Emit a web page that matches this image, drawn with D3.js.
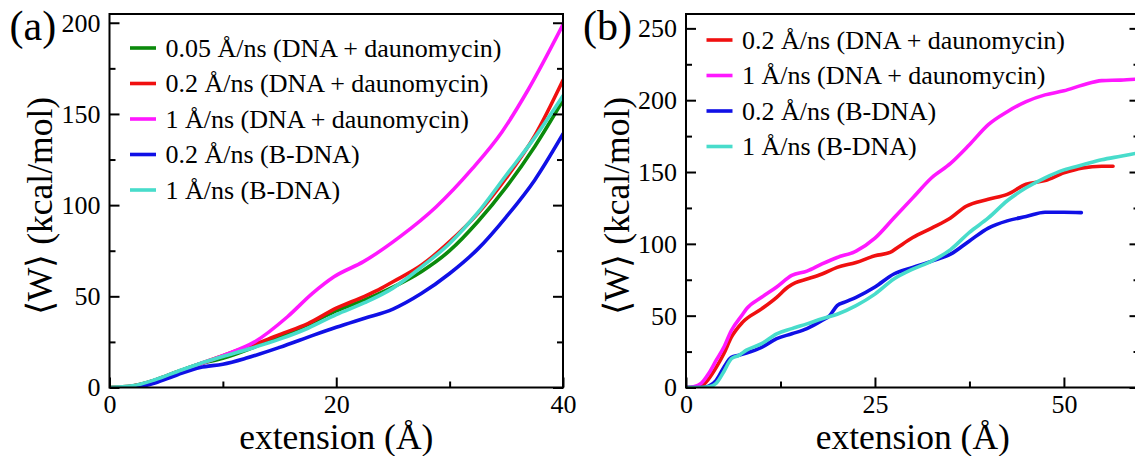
<!DOCTYPE html>
<html><head><meta charset="utf-8">
<script src="https://cdn.jsdelivr.net/npm/d3@7"></script>
<style>
html,body{margin:0;padding:0;background:#fff;}
svg{display:block;}
</style></head>
<body>
<svg id="chart" width="1135" height="456" font-family="Liberation Serif"></svg>
<script>
// ---------- Panel (a) data ----------
const aGreenX   = [0,2,4,6,8,10,12.5,15,17.5,20,22.5,25,27.5,30,32.5,35,37.5,40];
const aGreenY   = [0,0.8,4,8.6,13,16,21.5,28,34.5,42,48,55,63.5,75,91,110,132,157.5];
const aRedX     = [0,2,4,6,8,10,12,14,15,17.5,20,22.5,24,25,27.5,30,32.5,35,37.5,40];
const aRedY     = [0,0.8,4,8.6,13,17.5,22,26.5,29,35,43.5,50,54.5,58,67,80,95.5,115,138,168.5];
const aMagentaX = [1.5,2,4,6,8,10,12.8,15.7,17.9,19.8,22.4,25.6,28.8,32,34.6,36.9,40];
const aMagentaY = [0,0.3,3.5,8.3,13,17.5,25,38.8,51.6,60.7,69,82.6,99,120,140,163,199];
const aBlueX    = [2.5,4,6,8,10,12,15,18,20,22.5,25,27.5,30,32.5,35,37.5,40];
const aBlueY    = [0,2.5,7,11,12.8,16,22,28.7,33,38,43,51.5,62.5,76,93.6,113.7,139];
const aCyanX    = [0,2,4,6,8,10,12.5,15,17.5,20,22.5,25,27.5,30,32.5,35,37.5,40];
const aCyanY    = [0,0.9,4.2,8.8,13.2,17,21.5,26.5,32.5,40,46.5,54.5,66,79,96,116.5,137,160];

// ---------- Panel (b) data ----------
const bRedX     = [0,1,2,3,4,5,6,7.5,10,12,13.5,14.5,16,18,20,22.5,25,27,28,30,32.5,35,37,40,42.5,45,47.5,50,52.5,55,56.5];
const bRedY     = [0,0.2,1,6,14,23.5,35,45.5,54.7,62.8,70,73,75.5,79,83.6,87,91.7,94,97.5,104.4,111,118,126,131,134.4,141.5,144,149.4,152.9,154,154];
const bMagentaX = [0,1,2,3,4,5,6,7.5,8,10,12,14,16,18,20,22.5,25,27.5,30,32.5,35,37.5,40,42.5,45,47.5,50,52.5,55,57.5,60];
const bMagentaY = [0,0.5,2.8,9.7,19,28,39.7,51,54.7,62.8,70,78,81,86,90.5,95,104,118,132,146,156,169,183,192,199,203.7,206.5,210.6,213.6,214,214.8];
const bBlueX    = [0,2,3,4,5,6,7,8,10,12,14,16,18,19,20,21,22.5,25,27.5,30,32.5,35,37.5,40,42.5,45,47.5,50,52.3];
const bBlueY    = [0,0,1,5,14,21,22.4,24,28,34,37.4,41,46.7,50,57,59.4,62.8,70,79,83.6,88,92.8,102,111,116,119,122,122,121.7];
const bCyanX    = [0,2,3,4,5,6,7,8,10,12,14,16,18,20,22.5,25,27.5,30,32.5,35,37.5,40,42.5,45,47.5,50,52.5,55,57.5,60];
const bCyanY    = [0,0,0.5,3,11,20,22.4,26,30.5,37.4,41,44.3,47.8,51,57,65,75.5,82.4,88,96,108,118,130,139,146,151.5,155,158.5,161,163.5];

// ---------- labels / ticks ----------
const aLegendLabels = ["0.05 Å/ns (DNA + daunomycin)","0.2 Å/ns (DNA + daunomycin)","1 Å/ns (DNA + daunomycin)","0.2 Å/ns (B-DNA)","1 Å/ns (B-DNA)"];
const bLegendLabels = ["0.2 Å/ns (DNA + daunomycin)","1 Å/ns (DNA + daunomycin)","0.2 Å/ns (B-DNA)","1 Å/ns (B-DNA)"];
const aXTicks = [0,20,40], aXMinor = [10,30];
const aYTicks = [0,50,100,150,200], aYMinor = [25,75,125,175];
const bXTicks = [0,25,50], bXMinor = [12.5,37.5];
const bYTicks = [0,50,100,150,200,250], bYMinor = [25,75,125,175,225];
const xTitle = "extension (Å)", yTitle = "⟨W⟩ (kcal/mol)";

const C = {green:"#0b8a0b", red:"#f01010", magenta:"#ff18ff", blue:"#1010e6", cyan:"#48dccb"};
const FONT = "Liberation Serif";

const svg = d3.select("#chart");

function zip(xs, ys){ return xs.map((x,i)=>[x, ys[i]]); }

function panel(opt){
  const g = svg.append("g").attr("transform",`translate(${opt.left},${opt.top})`);
  const w = opt.width, h = opt.height;
  const x = d3.scaleLinear().domain(opt.xDomain).range([0,w]);
  const y = d3.scaleLinear().domain(opt.yDomain).range([h,0]);

  const clipId = "clip"+opt.name.replace(/\W/g,"");
  g.append("clipPath").attr("id",clipId).append("rect").attr("width",w).attr("height",h);

  const line = d3.line().x(d=>x(d[0])).y(d=>y(d[1])).curve(d3.curveMonotoneX);
  const lines = g.append("g").attr("clip-path",`url(#${clipId})`);
  opt.series.forEach(s=>{
    lines.append("path").datum(zip(s.x,s.y))
      .attr("fill","none").attr("stroke",s.color).attr("stroke-width",3.6)
      .attr("stroke-linejoin","round").attr("stroke-linecap","round")
      .attr("d",line);
  });

  function styleAxis(sel){
    sel.attr("font-family",FONT).attr("font-size",26);
    sel.select(".domain").remove();
    sel.selectAll("line").attr("stroke","#000").attr("stroke-width",2);
    sel.selectAll("text").attr("font-family",FONT).attr("font-size",26).attr("fill","#000");
  }
  // left
  g.append("g").call(d3.axisLeft(y).tickValues(opt.yTicks).tickSize(-10).tickPadding(9).tickFormat(d3.format("d"))).call(styleAxis);
  g.append("g").call(d3.axisLeft(y).tickValues(opt.yMinor).tickSize(-6).tickFormat("")).call(styleAxis);
  // right
  g.append("g").attr("transform",`translate(${w},0)`).call(d3.axisRight(y).tickValues(opt.yTicks).tickSize(-10).tickFormat("")).call(styleAxis);
  g.append("g").attr("transform",`translate(${w},0)`).call(d3.axisRight(y).tickValues(opt.yMinor).tickSize(-6).tickFormat("")).call(styleAxis);
  // bottom
  g.append("g").attr("transform",`translate(0,${h})`).call(d3.axisBottom(x).tickValues(opt.xTicks).tickSize(-10).tickPadding(7).tickFormat(d3.format("d"))).call(styleAxis);
  g.append("g").attr("transform",`translate(0,${h})`).call(d3.axisBottom(x).tickValues(opt.xMinor).tickSize(-6).tickFormat("")).call(styleAxis);

  // frame
  g.append("rect").attr("width",w).attr("height",h).attr("fill","none").attr("stroke","#000").attr("stroke-width",2);

  // legend
  const lg = g.append("g").attr("transform",`translate(20.5,${opt.legendTop})`);
  opt.series.forEach((s,i)=>{
    const yy = i*35.5;
    lg.append("line").attr("x1",0).attr("x2",26).attr("y1",yy).attr("y2",yy)
      .attr("stroke",s.color).attr("stroke-width",3.6);
    lg.append("text").attr("x",35.5).attr("y",yy+8.8)
      .attr("font-family",FONT).attr("font-size",26).text(s.label);
  });

  // titles
  g.append("text").attr("x",w/2).attr("y",h+61.5).attr("text-anchor","middle")
    .attr("font-family",FONT).attr("font-size",35.5).text(xTitle);
  g.append("text").attr("transform",`translate(-57.5,${192})rotate(-90)`).attr("text-anchor","middle")
    .attr("font-family",FONT).attr("font-size",35.5).text(yTitle);
  // panel label
  g.append("text").attr("x",-opt.labelOffset).attr("y",26)
    .attr("font-family",FONT).attr("font-size",42).text(opt.name);
}

const aColors = [C.green,C.red,C.magenta,C.blue,C.cyan];
const aXs = [aGreenX,aRedX,aMagentaX,aBlueX,aCyanX];
const aYs = [aGreenY,aRedY,aMagentaY,aBlueY,aCyanY];
panel({
  name:"(a)", left:109.5, top:14, width:453.5, height:373.5,
  xDomain:[0,40], yDomain:[0,204.8],
  xTicks:aXTicks, xMinor:aXMinor, yTicks:aYTicks, yMinor:aYMinor,
  legendTop:34, labelOffset:100,
  series: aLegendLabels.map((l,i)=>({label:l,color:aColors[i],x:aXs[i],y:aYs[i]}))
});

const bColors = [C.red,C.magenta,C.blue,C.cyan];
const bXs = [bRedX,bMagentaX,bBlueX,bCyanX];
const bYs = [bRedY,bMagentaY,bBlueY,bCyanY];
panel({
  name:"(b)", left:686, top:14, width:453.5, height:373.5,
  xDomain:[0,60], yDomain:[0,260],
  xTicks:bXTicks, xMinor:bXMinor, yTicks:bYTicks, yMinor:bYMinor,
  legendTop:26, labelOffset:103,
  series: bLegendLabels.map((l,i)=>({label:l,color:bColors[i],x:bXs[i],y:bYs[i]}))
});
</script>
</body></html>
